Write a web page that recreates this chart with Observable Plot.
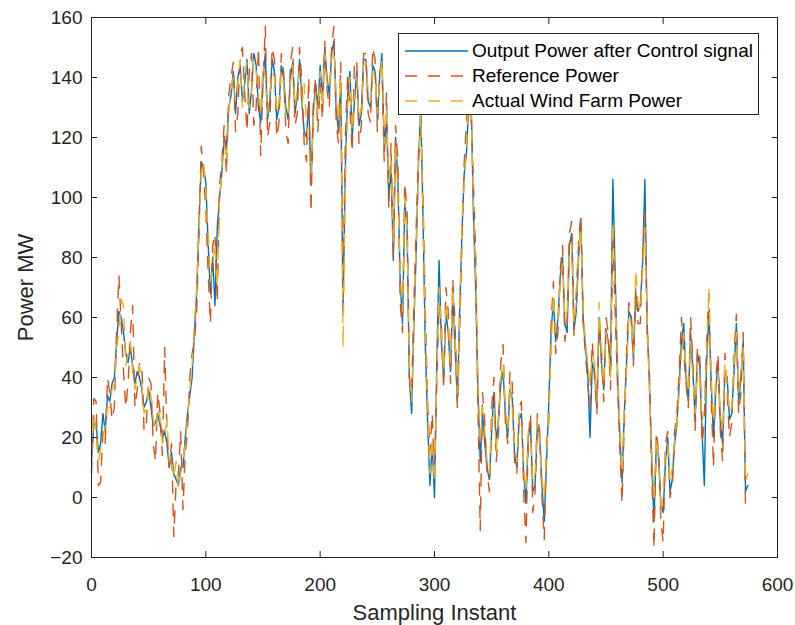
<!DOCTYPE html>
<html><head><meta charset="utf-8">
<script src="https://cdn.jsdelivr.net/npm/d3@7"></script>
<script src="https://cdn.jsdelivr.net/npm/@observablehq/plot@0.6"></script>
<style>
body{margin:0;background:#fff;font-family:"Liberation Sans",Arial,Helvetica,sans-serif}
#wrap{position:relative;width:795px;height:625px}
#legend{position:absolute;left:398px;top:33px;width:361px;height:82px;box-sizing:border-box;border:1px solid #262626;background:#fff}
#legend .row{position:absolute;left:0;height:24px;width:100%}
#legend svg{position:absolute;left:6px;top:0}
#legend span{position:absolute;left:73px;top:0;font-size:19px;line-height:24px;color:#000;white-space:nowrap}
</style></head><body><div id="wrap"></div>
<script>
const sampleStep = 2;
const outputPower = [
 12,24, 25,15, 18,28, 22,34, 32,38, 40,52, 62,60, 55,48, 45,50, 44,38,
 42,40, 36,30, 32,36, 30,24, 25,28, 24,20, 22,18, 10,15, 8,6, 4,10,
 10,20, 28,34, 40,55, 68,92, 112,110, 105,85, 68,80, 64,90, 100,108, 120,116,
 130,134, 142,128, 140,144, 132,138, 146,128, 136,148, 144,130, 125,140, 148,126, 132,146,
 142,126, 130,144, 140,130, 126,140, 145,128, 134,146, 132,122, 120,132, 104,128, 138,130,
 144,132, 150,140, 134,148, 152,130, 122,138, 62,110, 134,142, 120,132, 142,124, 128,146,
 146,132, 130,144, 142,126, 140,148, 116,128, 100,110, 79,120, 105,72, 58,98, 90,40,
 28,58, 82,112, 130,92, 50,25, 4,18, 0,45, 79,52, 40,62, 55,42, 68,50,
 32,62, 88,108, 115,132, 134,95, 70,35, 12,28, 18,10, 6,22, 35,18, 26,38,
 42,28, 20,36, 33,15, 10,26, 28,8, -2,20, 24,2, 4,24, 20,4, -8,12,
 32,55, 66,52, 60,74, 80,58, 55,84, 88,56, 62,80, 93,60, 50,42, 20,45,
 42,30, 60,45, 36,56, 52,44, 106,75, 42,22, 5,28, 45,62, 60,46, 68,62,
 64,78, 106,58, 38,12, -8,18, 14,-2, -5,12, 20,2, 6,18, 24,38, 52,58,
 40,32, 55,42, 26,48, 44,22, 4,45, 62,38, 20,36, 45,25, 18,42, 40,26,
 28,42, 58,32, 40,52, 2,4
];
const referencePower = [
 8,33, 32,4, 5,22, 18,40, 35,26, 30,56, 74,58, 42,30, 38,55, 64,30,
 36,45, 44,22, 25,40, 38,18, 12,35, 28,14, 50,22, 10,18, -13,5, 8,22,
 -4,15, 22,40, 48,52, 62,88, 117,108, 96,75, 58,84, 88,65, 104,112, 124,108,
 134,140, 145,122, 128,148, 150,135, 122,142, 148,124, 130,150, 114,138, 157,120, 125,150,
 146,120, 125,148, 142,122, 118,145, 150,124, 128,150, 138,118, 112,140, 95,132, 140,122,
 138,126, 152,136, 130,150, 157,125, 118,145, 68,120, 140,130, 115,145, 146,118, 124,148,
 148,128, 125,150, 146,122, 142,144, 112,135, 96,118, 80,124, 112,65, 55,105, 95,40,
 35,65, 90,115, 122,100, 62,32, 15,28, 8,38, 65,58, 36,70, 62,38, 73,58,
 30,55, 85,112, 125,138, 128,105, 82,30, -11,35, 25,8, 2,30, 40,12, 22,45,
 51,25, 18,42, 38,12, 8,30, 32,2, -15,20, 28,-5, 2,28, 22,0, -14,18,
 25,58, 72,48, 55,76, 84,52, 58,88, 92,54, 68,85, 94,58, 48,38, 30,52,
 40,28, 58,50, 32,60, 55,36, 88,62, 38,18, -2,25, 48,65, 62,44, 70,58,
 58,80, 95,55, 42,8, -17,22, 15,-8, -15,18, 22,0, 4,22, 28,42, 60,48,
 38,30, 60,45, 22,50, 48,18, 25,52, 68,35, 10,40, 48,22, 12,48, 35,20,
 25,48, 61,28, 35,55, -3,-4
];
const actualPower = [
 14,28, 22,12, 16,20, 24,30, 30,36, 38,50, 55,66, 64,44, 48,52, 42,36,
 40,44, 38,28, 30,38, 34,26, 22,30, 26,18, 20,26, 12,14, 6,12, 3,8,
 12,18, 26,36, 44,58, 70,90, 108,112, 102,88, 72,76, 85,70, 98,110, 118,112,
 128,136, 140,132, 138,146, 130,140, 145,130, 135,146, 142,134, 128,144, 140,128, 135,142,
 140,128, 132,142, 138,126, 128,138, 144,130, 136,142, 130,138, 125,118, 108,126, 135,128,
 142,130, 148,138, 136,146, 150,134, 125,140, 50,105, 130,140, 122,135, 140,126, 130,144,
 145,135, 132,142, 140,128, 138,146, 118,130, 105,112, 85,118, 100,75, 62,100, 88,45,
 32,60, 85,110, 128,95, 55,30, 8,20, 5,40, 70,55, 42,65, 58,45, 70,52,
 35,60, 92,105, 118,135, 130,100, 75,40, 18,30, 22,12, 8,25, 30,15, 28,40,
 45,30, 22,38, 30,18, 12,28, 25,10, 2,22, 20,5, 8,26, 18,6, 0,15,
 28,50, 68,55, 58,72, 78,60, 62,80, 85,58, 65,82, 90,62, 52,45, 38,48,
 45,32, 65,48, 38,55, 50,40, 92,70, 45,25, 8,30, 42,60, 58,48, 76,65,
 62,75, 90,60, 35,15, 0,20, 12,-5, 2,15, 18,5, 10,20, 25,35, 48,55,
 42,35, 52,40, 28,45, 40,25, 30,48, 70,40, 25,38, 42,28, 22,45, 38,28,
 30,45, 55,35, 42,50, 5,8
];
const xTicks = [0, 100, 200, 300, 400, 500, 600];
const yTicks = [-20, 0, 20, 40, 60, 80, 100, 120, 140, 160];
const seriesNames = ["Output Power after Control signal", "Reference Power", "Actual Wind Farm Power"];
const seriesColors = ["#0072BD", "#D95319", "#EDB120"];
const seriesDash = [null, "12,11", "12,11"];

const allSeries = [outputPower, referencePower, actualPower];
const tables = allSeries.map(vals => vals.map((v, i) => ({x: i * sampleStep, y: v})));

const axisColor = "#262626";
const chart = Plot.plot({
  width: 795, height: 625,
  marginLeft: 91, marginRight: 18, marginTop: 17, marginBottom: 68,
  style: {fontFamily: '"Liberation Sans", Arial, sans-serif', fontSize: "19px", color: axisColor, background: "#fff"},
  x: {domain: [0, 600]},
  y: {domain: [-20, 160]},
  marks: [
    ...tables.map((t, k) => Plot.line(t, {x: "x", y: "y", stroke: seriesColors[k], strokeWidth: 1.4, strokeDasharray: seriesDash[k]})),
    Plot.frame({stroke: axisColor, strokeWidth: 1}),
    Plot.axisX({anchor: "bottom", ticks: xTicks, tickSize: -6, tickPadding: 26, label: "Sampling Instant", labelAnchor: "center", labelArrow: "none", labelOffset: 62, fontSize: 19}),
    Plot.axisX({anchor: "top", ticks: xTicks, tickSize: -6, tickFormat: () => "", label: null}),
    Plot.axisY({anchor: "left", ticks: yTicks, tickSize: -6, tickPadding: 15, label: "Power MW", labelAnchor: "center", labelArrow: "none", labelOffset: 74}),
    Plot.axisY({anchor: "right", ticks: yTicks, tickSize: -6, tickFormat: () => "", label: null})
  ]
});
const wrap = document.getElementById("wrap");
wrap.appendChild(chart);
d3.select(chart).selectAll("[aria-label='x-axis label'] text, [aria-label='y-axis label'] text").style("font-size", "22px");

const legend = document.createElement("div");
legend.id = "legend";
seriesNames.forEach((name, k) => {
  const row = document.createElement("div");
  row.className = "row";
  row.style.top = (5 + k * 25) + "px";
  row.innerHTML = `<svg width="64" height="24"><line x1="0" x2="63" y1="12" y2="12" stroke="${seriesColors[k]}" stroke-width="1.4" ${seriesDash[k] ? `stroke-dasharray="${seriesDash[k]}"` : ""}/></svg><span>${name}</span>`;
  legend.appendChild(row);
});
wrap.appendChild(legend);
</script>
</body></html>
